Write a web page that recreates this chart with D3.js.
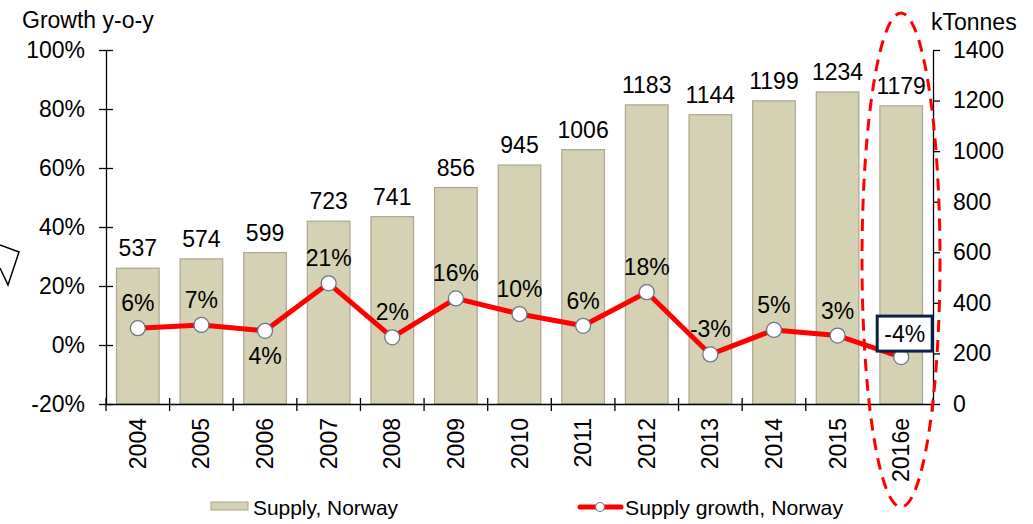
<!DOCTYPE html>
<html><head><meta charset="utf-8">
<script src="https://cdn.jsdelivr.net/npm/d3@7"></script>
<style>body{margin:0;background:#fff}svg{display:block;font-family:"Liberation Sans",Arial,sans-serif}</style>
</head><body><svg id="c" width="1033" height="524"></svg>
<script>
const categories = ["2004","2005","2006","2007","2008","2009","2010","2011","2012","2013","2014","2015","2016e"];
const supply = [537,574,599,723,741,856,945,1006,1183,1144,1199,1234,1179];
const growth = [5.7,6.8,4.8,20.9,2.6,15.8,10.5,6.5,17.9,-3.2,5.1,3.2,-4.1];
const growthLabels = ["6%","7%","4%","21%","2%","16%","10%","6%","18%","-3%","5%","3%","-4%"];
const labelSide = ["above","above","below","above","above","above","above","above","above","above","above","above","box"];
const leftTicks = [-20,0,20,40,60,80,100];
const rightTicks = [0,200,400,600,800,1000,1200,1400];

const svg = d3.select("#c");
const FF = "Liberation Sans, Arial, sans-serif";
const L = 106, R = 933, T = 50, B = 404;
const x = d3.scaleBand().domain(categories).range([L, R]).paddingInner(0.33).paddingOuter(0.165);
const xAxisScale = d3.scaleBand().domain(categories).range([L, R]);
const yL = d3.scaleLinear().domain([-20, 100]).range([B, T]);
const yR = d3.scaleLinear().domain([0, 1400]).range([B, T]);
const fs = 23;

// bars
svg.append("g").selectAll("rect").data(supply).join("rect")
  .attr("x", (d,i) => x(categories[i])).attr("width", x.bandwidth())
  .attr("y", d => yR(d)).attr("height", d => yR(0) - yR(d))
  .attr("fill", "#d5d1b3").attr("stroke", "#aaa68f").attr("stroke-width", 1.2);

svg.append("g").selectAll("text").data(supply).join("text")
  .attr("x", (d,i) => x(categories[i]) + x.bandwidth()/2).attr("y", d => yR(d) - 12)
  .attr("text-anchor", "middle").attr("font-size", fs).attr("fill", "#000").text(d => d);

// axes
const la = svg.append("g").attr("transform", `translate(${L},0)`)
  .call(d3.axisLeft(yL).tickValues(leftTicks).tickFormat(d => d + "%").tickSizeInner(7).tickSizeOuter(0));
la.selectAll(".tick line").attr("x2", 7).attr("x1", -7);
la.selectAll(".tick text").attr("x", -21).attr("font-size", fs).attr("font-family", FF).attr("fill", "#000");

const ra = svg.append("g").attr("transform", `translate(${R},0)`)
  .call(d3.axisRight(yR).tickValues(rightTicks).tickFormat(d3.format("d")).tickSizeInner(7).tickSizeOuter(0));
ra.selectAll(".tick text").attr("x", 20).attr("font-size", fs).attr("font-family", FF).attr("fill", "#000");

const ba = svg.append("g").attr("transform", `translate(0,${B})`)
  .call(d3.axisBottom(xAxisScale).tickSize(0).tickSizeOuter(0));
ba.selectAll(".tick text").attr("transform", "rotate(-90)").attr("text-anchor", "end")
  .attr("x", -14).attr("y", 0).attr("dy", "0.35em").attr("font-size", fs)
  .attr("font-family", FF).attr("fill", "#000");
// category boundary ticks
const bounds = categories.map(c => xAxisScale(c)).concat([R]);
svg.append("g").selectAll("line").data(bounds).join("line")
  .attr("x1", d => d).attr("x2", d => d).attr("y1", B - 6).attr("y2", B + 7)
  .attr("stroke", "#000").attr("stroke-width", 1.3);
svg.selectAll(".domain").attr("stroke", "#000").attr("stroke-width", 1.3);
svg.selectAll(".tick line").attr("stroke", "#000").attr("stroke-width", 1.3);

// line
const cx = (i) => x(categories[i]) + x.bandwidth()/2;
const line = d3.line().x((d,i) => cx(i)).y(d => yL(d));
svg.append("path").datum(growth).attr("d", line).attr("fill", "none")
  .attr("stroke", "#ff0000").attr("stroke-width", 5).attr("stroke-linejoin", "round");
svg.append("g").selectAll("circle").data(growth).join("circle")
  .attr("cx", (d,i) => cx(i)).attr("cy", d => yL(d)).attr("r", 7.5)
  .attr("fill", "#fff").attr("stroke", "#6a7688").attr("stroke-width", 1.3);

// growth labels
growth.forEach((d,i) => {
  const px = cx(i), py = yL(d);
  if (labelSide[i] === "box") {
    svg.append("rect").attr("x", px - 24).attr("y", py - 41).attr("width", 55).attr("height", 35)
      .attr("fill", "#fff").attr("stroke", "#0b2247").attr("stroke-width", 3);
    svg.append("text").attr("x", px + 3.5).attr("y", py - 15).attr("text-anchor", "middle")
      .attr("font-size", fs).text(growthLabels[i]);
  } else {
    svg.append("text").attr("x", px).attr("y", labelSide[i] === "above" ? py - 17 : py + 33)
      .attr("text-anchor", "middle").attr("font-size", fs).text(growthLabels[i]);
  }
});

// titles
svg.append("text").attr("x", 22).attr("y", 28).attr("font-size", fs).text("Growth y-o-y");
svg.append("text").attr("x", 931).attr("y", 30).attr("font-size", fs).text("kTonnes");

// callout fragment on left edge
svg.append("path").attr("d", "M0,245 L19,252 L8,285 L0,268").attr("fill", "#fff")
  .attr("stroke", "#000").attr("stroke-width", 1.5);

// dashed ellipse
svg.append("ellipse").attr("cx", 901).attr("cy", 260).attr("rx", 39).attr("ry", 247)
  .attr("fill", "none").attr("stroke", "#ff0000").attr("stroke-width", 3).attr("stroke-dasharray", "12,8");

// legend
svg.append("rect").attr("x", 211).attr("y", 502).attr("width", 37).attr("height", 8)
  .attr("fill", "#d5d1b3").attr("stroke", "#aaa68f");
svg.append("text").attr("x", 253).attr("y", 515).attr("font-size", 21)
  .attr("textLength", 145).attr("lengthAdjust", "spacingAndGlyphs").text("Supply, Norway");
svg.append("line").attr("x1", 580).attr("x2", 621).attr("y1", 507).attr("y2", 507)
  .attr("stroke", "#ff0000").attr("stroke-width", 5).attr("stroke-linecap", "round");
svg.append("circle").attr("cx", 600).attr("cy", 507).attr("r", 4.5).attr("fill", "#fff").attr("stroke", "#6a7688").attr("stroke-width", 1.2);
svg.append("text").attr("x", 625).attr("y", 515).attr("font-size", 21)
  .attr("textLength", 218).attr("lengthAdjust", "spacingAndGlyphs").text("Supply growth, Norway");
</script></body></html>
